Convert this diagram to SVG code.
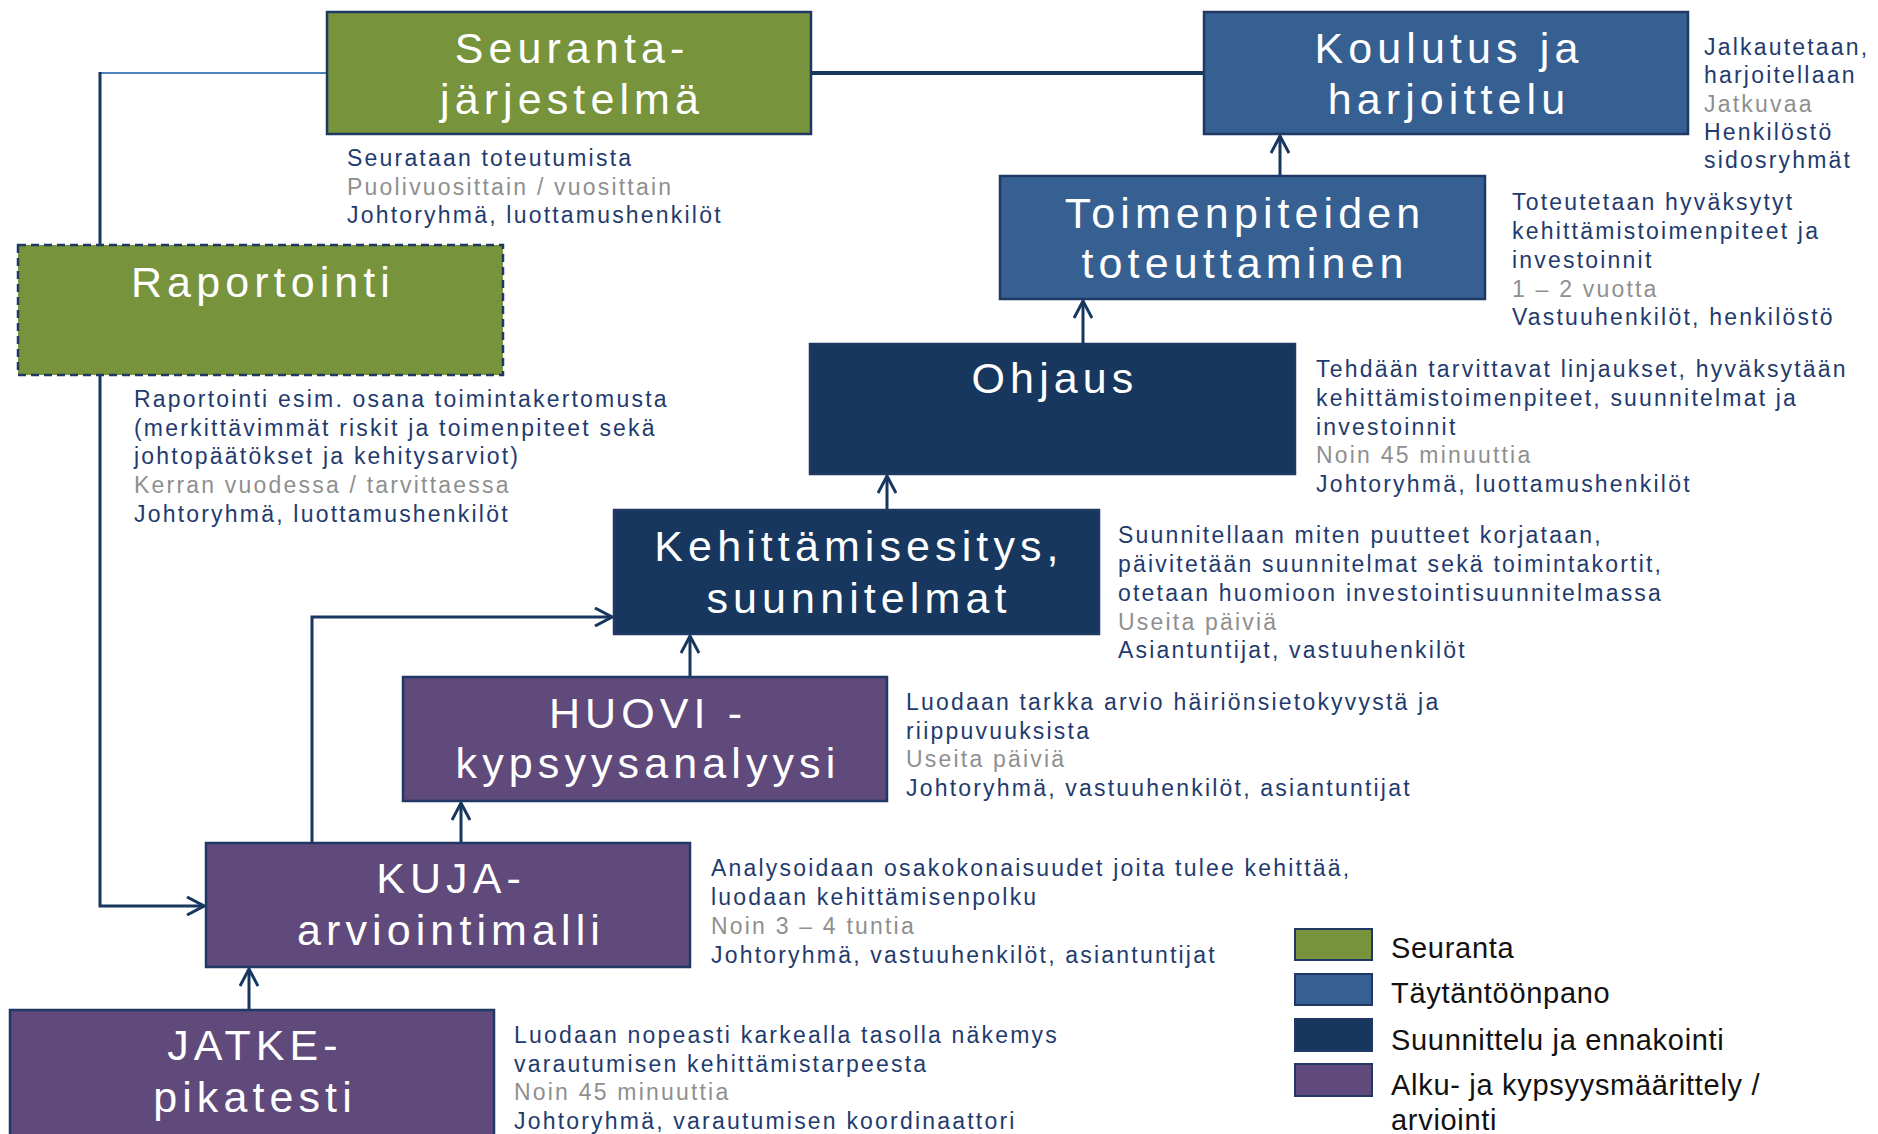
<svg xmlns="http://www.w3.org/2000/svg" width="1878" height="1134" viewBox="0 0 1878 1134">
<style>
.box{stroke:#1F3864;stroke-width:2.5}
.green{fill:#77933C}
.blue{fill:#376092}
.navy{fill:#17375E}
.purple{fill:#604A7B}
.t{font-family:"Liberation Sans",Arial,sans-serif;font-size:43px;fill:#fff;letter-spacing:5.1px;text-anchor:middle}
.d{font-family:"Liberation Sans",Arial,sans-serif;font-size:23px;letter-spacing:2.2px;fill:#1F3B6E}
.g{fill:#8F8F8F}
.leg{font-family:"Liberation Sans",Arial,sans-serif;font-size:29px;letter-spacing:0.7px;fill:#111}
.c{fill:none;stroke:#17375E;stroke-width:3}
</style>
<defs>
<marker id="arr" markerUnits="userSpaceOnUse" viewBox="0 0 20 20" markerWidth="20" markerHeight="20" refX="18" refY="10" orient="auto">
<path d="M1,1 L18,10 L1,19" fill="none" stroke="#17375E" stroke-width="3"/>
</marker>
</defs>
<rect width="1878" height="1134" fill="#fff"/>
<g id="connectors">
<line x1="811" y1="73" x2="1204" y2="73" stroke="#17375E" stroke-width="4"/>
<line x1="100" y1="73" x2="327" y2="73" stroke="#4F81BD" stroke-width="1.8"/>
<path class="c" d="M100,72 L100,906 L204,906" marker-end="url(#arr)"/>
<path class="c" d="M312,843 L312,617 L612,617" marker-end="url(#arr)"/>
<path class="c" d="M461,843 L461,803" marker-end="url(#arr)"/>
<path class="c" d="M690,677 L690,636" marker-end="url(#arr)"/>
<path class="c" d="M887,510 L887,476" marker-end="url(#arr)"/>
<path class="c" d="M1083,344 L1083,301" marker-end="url(#arr)"/>
<path class="c" d="M1280,176 L1280,136" marker-end="url(#arr)"/>
<path class="c" d="M249,1010 L249,969" marker-end="url(#arr)"/>
</g>
<g id="seuranta">
<rect class="box green" x="327" y="12" width="484" height="122"/>
<text class="t"><tspan x="572" y="63">Seuranta-</tspan><tspan x="572" y="114">järjestelmä</tspan></text>
<text class="d"><tspan x="347" y="166">Seurataan toteutumista</tspan><tspan class="g" x="347" y="195">Puolivuosittain / vuosittain</tspan><tspan x="347" y="223">Johtoryhmä, luottamushenkilöt</tspan></text>
</g>
<g id="koulutus">
<rect class="box blue" x="1204" y="12" width="484" height="122"/>
<text class="t"><tspan x="1449" y="63">Koulutus ja</tspan><tspan x="1449" y="114">harjoittelu</tspan></text>
<text class="d"><tspan x="1704" y="55">Jalkautetaan,</tspan><tspan x="1704" y="83">harjoitellaan</tspan><tspan class="g" x="1704" y="112">Jatkuvaa</tspan><tspan x="1704" y="140">Henkilöstö</tspan><tspan x="1704" y="168">sidosryhmät</tspan></text>
</g>
<g id="toimenpiteiden">
<rect class="box blue" x="1000" y="176" width="485" height="123"/>
<text class="t"><tspan x="1245" y="228">Toimenpiteiden</tspan><tspan x="1245" y="278">toteuttaminen</tspan></text>
<text class="d"><tspan x="1512" y="210">Toteutetaan hyväksytyt</tspan><tspan x="1512" y="239">kehittämistoimenpiteet ja</tspan><tspan x="1512" y="268">investoinnit</tspan><tspan class="g" x="1512" y="297">1 – 2 vuotta</tspan><tspan x="1512" y="325">Vastuuhenkilöt, henkilöstö</tspan></text>
</g>
<g id="ohjaus">
<rect class="box navy" x="810" y="344" width="485" height="130"/>
<text class="t" x="1055" y="393">Ohjaus</text>
<text class="d"><tspan x="1316" y="377">Tehdään tarvittavat linjaukset, hyväksytään</tspan><tspan x="1316" y="406">kehittämistoimenpiteet, suunnitelmat ja</tspan><tspan x="1316" y="435">investoinnit</tspan><tspan class="g" x="1316" y="463">Noin 45 minuuttia</tspan><tspan x="1316" y="492">Johtoryhmä, luottamushenkilöt</tspan></text>
</g>
<g id="raportointi">
<rect x="18" y="245" width="485" height="130" fill="#77933C" stroke="#1F3864" stroke-width="2.5" stroke-dasharray="8,5"/>
<text class="t" x="263" y="297">Raportointi</text>
<text class="d"><tspan x="134" y="407">Raportointi esim. osana toimintakertomusta</tspan><tspan x="134" y="436">(merkittävimmät riskit ja toimenpiteet sekä</tspan><tspan x="134" y="464">johtopäätökset ja kehitysarviot)</tspan><tspan class="g" x="134" y="493">Kerran vuodessa / tarvittaessa</tspan><tspan x="134" y="522">Johtoryhmä, luottamushenkilöt</tspan></text>
</g>
<g id="kehittamisesitys">
<rect class="box navy" x="614" y="510" width="485" height="124"/>
<text class="t"><tspan x="859" y="561">Kehittämisesitys,</tspan><tspan x="859" y="613">suunnitelmat</tspan></text>
<text class="d"><tspan x="1118" y="543">Suunnitellaan miten puutteet korjataan,</tspan><tspan x="1118" y="572">päivitetään suunnitelmat sekä toimintakortit,</tspan><tspan x="1118" y="601">otetaan huomioon investointisuunnitelmassa</tspan><tspan class="g" x="1118" y="630">Useita päiviä</tspan><tspan x="1118" y="658">Asiantuntijat, vastuuhenkilöt</tspan></text>
</g>
<g id="huovi">
<rect class="box purple" x="403" y="677" width="484" height="124"/>
<text class="t"><tspan x="648" y="728">HUOVI -</tspan><tspan x="648" y="778">kypsyysanalyysi</tspan></text>
<text class="d"><tspan x="906" y="710">Luodaan tarkka arvio häiriönsietokyvystä ja</tspan><tspan x="906" y="739">riippuvuuksista</tspan><tspan class="g" x="906" y="767">Useita päiviä</tspan><tspan x="906" y="796">Johtoryhmä, vastuuhenkilöt, asiantuntijat</tspan></text>
</g>
<g id="kuja">
<rect class="box purple" x="206" y="843" width="484" height="124"/>
<text class="t"><tspan x="451" y="893">KUJA-</tspan><tspan x="451" y="945">arviointimalli</tspan></text>
<text class="d"><tspan x="711" y="876">Analysoidaan osakokonaisuudet joita tulee kehittää,</tspan><tspan x="711" y="905">luodaan kehittämisenpolku</tspan><tspan class="g" x="711" y="934">Noin 3 – 4 tuntia</tspan><tspan x="711" y="963">Johtoryhmä, vastuuhenkilöt, asiantuntijat</tspan></text>
</g>
<g id="jatke">
<rect class="box purple" x="10" y="1010" width="484" height="140"/>
<text class="t"><tspan x="255" y="1060">JATKE-</tspan><tspan x="255" y="1112">pikatesti</tspan></text>
<text class="d"><tspan x="514" y="1043">Luodaan nopeasti karkealla tasolla näkemys</tspan><tspan x="514" y="1072">varautumisen kehittämistarpeesta</tspan><tspan class="g" x="514" y="1100">Noin 45 minuuttia</tspan><tspan x="514" y="1129">Johtoryhmä, varautumisen koordinaattori</tspan></text>
</g>
<g id="legend">
<rect class="green" x="1295" y="929" width="77" height="31" stroke="#1F3864" stroke-width="2"/>
<rect class="blue" x="1295" y="974" width="77" height="31" stroke="#1F3864" stroke-width="2"/>
<rect class="navy" x="1295" y="1019" width="77" height="32" stroke="#1F3864" stroke-width="2"/>
<rect class="purple" x="1295" y="1064" width="77" height="32" stroke="#1F3864" stroke-width="2"/>
<text class="leg" x="1391" y="958">Seuranta</text>
<text class="leg" x="1391" y="1003">Täytäntöönpano</text>
<text class="leg" x="1391" y="1050">Suunnittelu ja ennakointi</text>
<text class="leg"><tspan x="1391" y="1095">Alku- ja kypsyysmäärittely /</tspan><tspan x="1391" y="1130">arviointi</tspan></text>
</g>
</svg>
